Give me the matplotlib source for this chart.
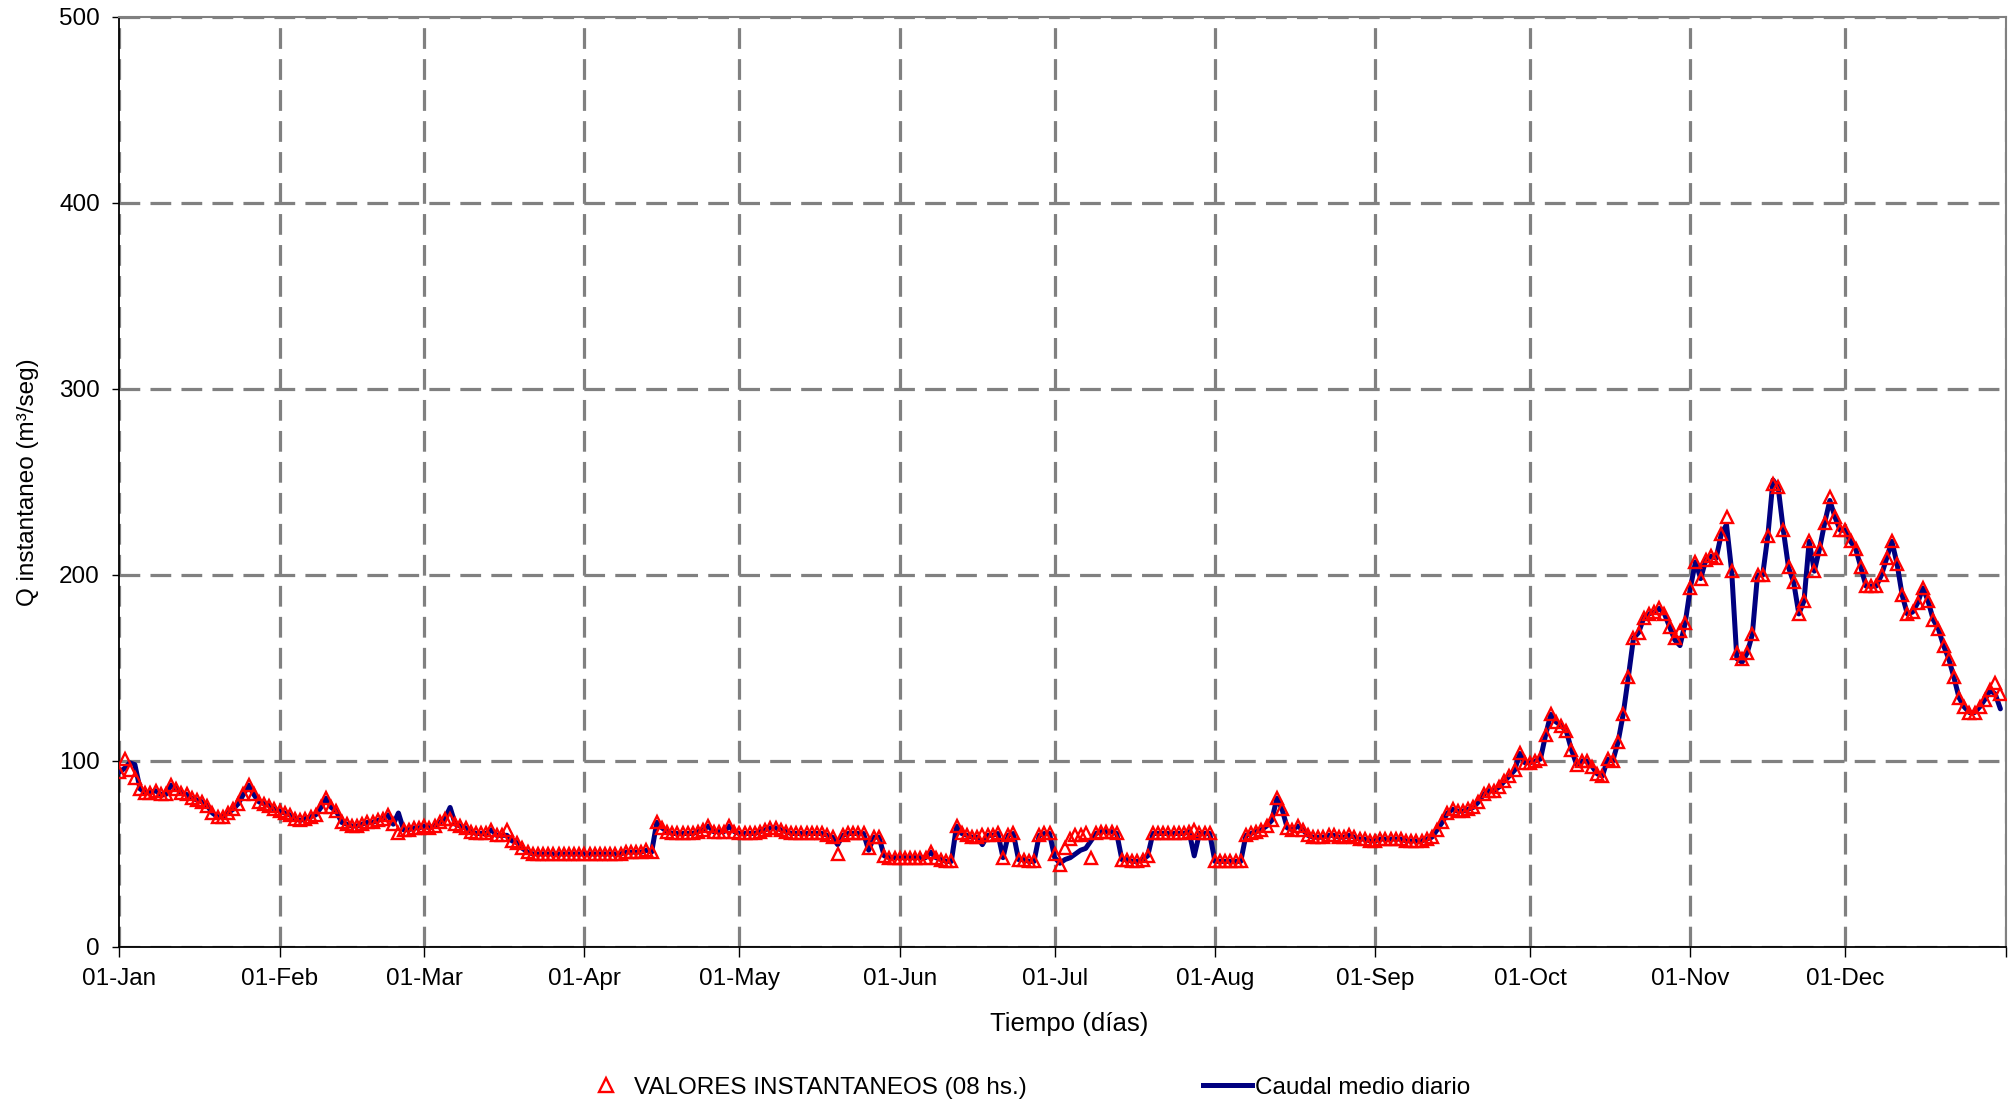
import matplotlib
matplotlib.use('Agg')
import matplotlib.pyplot as plt
from matplotlib import font_manager as fm
from matplotlib.lines import Line2D

# ---- data (daily values, day 0 = 01-Jan) ----
jan = [94, 101, 95, 91, 85, 83, 83, 84, 82, 82, 87, 85, 83, 82, 80, 79, 78, 76, 72, 70,
       70, 72, 74, 77, 82, 87, 82, 78, 77, 76, 74]
feb = [73, 72, 71, 69, 68, 69, 70, 71, 75, 80, 75, 73, 67, 66, 65, 65, 66, 67, 67, 68,
       69, 71, 66, 61, 63, 63, 64, 64]
mar = [65, 64, 65, 67, 69, 69, 66, 65, 64, 62, 61, 61, 61, 63, 60, 60, 63, 57, 56, 53,
       51, 50, 50, 50, 50, 50, 50, 50, 50, 50, 50]
apr = [50, 50, 50, 50, 50, 50, 50, 50, 51, 51, 51, 51, 52, 51, 67, 64, 62, 61, 61, 61,
       61, 61, 62, 63, 65, 62, 62, 62, 65, 62]
may = [61, 61, 61, 61, 62, 63, 64, 64, 63, 62, 61, 61, 61, 61, 61, 61, 61, 60, 59, 50,
       60, 61, 61, 61, 61, 53, 59, 59, 49, 48, 48]
jun = [48, 48, 48, 48, 48, 48, 51, 48, 47, 46, 46, 65, 61, 60, 59, 59, 60, 60, 60, 61,
       48, 60, 61, 47, 47, 46, 46, 60, 61, 61]
jul = [50, 44, 53, 58, 60, 60, 61, 48, 61, 62, 62, 62, 61, 47, 47, 46, 46, 47, 49, 61,
       61, 61, 61, 61, 61, 61, 62, 63, 61, 61, 61]
aug = [46, 46, 46, 46, 46, 46, 60, 61, 62, 63, 65, 68, 80, 74, 64, 63, 65, 63, 60, 59,
       59, 59, 60, 60, 59, 59, 60, 59, 58, 58, 57]
sep = [57, 58, 58, 58, 58, 58, 57, 57, 57, 57, 58, 59, 63, 67, 72, 74, 73, 73, 74, 75,
       78, 82, 84, 84, 86, 89, 92, 95, 104, 99]
oct_ = [99, 100, 101, 114, 125, 121, 119, 116, 106, 98, 100, 100, 97, 93, 92, 101, 100,
        110, 125, 145, 166, 169, 177, 179, 180, 182, 179, 172, 166, 170, 174]
nov = [193, 207, 198, 208, 210, 209, 222, 231, 202, 158, 155, 158, 168, 200, 200, 221,
       249, 247, 224, 204, 196, 179, 186, 218, 202, 214, 228, 242, 231, 224]
dec = [224, 218, 214, 204, 194, 194, 194, 200, 209, 218, 206, 189, 179, 180, 185, 193,
       186, 176, 171, 162, 155, 145, 134, 129, 126, 126, 129, 133, 138, 142, 136]

inst = jan + feb + mar + apr + may + jun + jul + aug + sep + oct_ + nov + dec

# days where the daily mean visibly differs from the 08 hs. reading
mean_diff = {1: 96, 2: 99, 3: 98, 54: 72, 64: 75, 75: 60, 139: 55, 145: 52, 167: 55,
             181: 48, 182: 45, 183: 47, 184: 48, 185: 50, 186: 52, 187: 53, 188: 57,
             208: 49, 301: 165, 302: 162, 311: 227, 313: 155, 314: 153, 320: 251,
             331: 240, 363: 136, 364: 128}
daily_mean = list(inst)
for k, v in mean_diff.items():
    daily_mean[k] = v

days = list(range(len(inst)))
month_starts = [0, 31, 59, 90, 120, 151, 181, 212, 243, 273, 304, 334]
month_labels = ['01-Jan', '01-Feb', '01-Mar', '01-Apr', '01-May', '01-Jun',
                '01-Jul', '01-Aug', '01-Sep', '01-Oct', '01-Nov', '01-Dec']
y_ticks = [0, 100, 200, 300, 400, 500]

# ---- fonts ----
names = {f.name for f in fm.fontManager.ttflist}
if 'Liberation Sans Narrow' in names:
    fam, fs = 'Liberation Sans Narrow', 20
else:
    fam, fs = 'Liberation Sans', 17.5
plt.rcParams['font.family'] = [fam, 'DejaVu Sans']

fig = plt.figure(figsize=(20.13, 11.01), dpi=100)
ax = fig.add_axes([0.0593, 0.1399, 0.9370, 0.8449])

ax.plot(days, daily_mean, color='#000080', lw=3.6, zorder=3,
        solid_joinstyle='round', solid_capstyle='round')
ax.plot(days, inst, linestyle='none', marker='^', markersize=9,
        markerfacecolor='none', markeredgecolor='#FF0000', markeredgewidth=1.7, zorder=4)

ax.set_xlim(0, 365)
ax.set_ylim(0, 500)
ax.set_xticks(month_starts + [365])
ax.set_xticklabels(month_labels + [''])
ax.set_yticks(y_ticks)
ax.set_yticklabels([str(v) for v in y_ticks])

ax.set_axisbelow(True)
ax.grid(True, color='#808080', linewidth=2.3, linestyle=(0, (6.5, 3.2)))

for s in ['left', 'bottom']:
    ax.spines[s].set_color('#000000')
    ax.spines[s].set_linewidth(1.3)
for s in ['top', 'right']:
    ax.spines[s].set_color('#808080')
    ax.spines[s].set_linewidth(1.5)

ax.tick_params(axis='x', length=7, width=1, direction='out', pad=8, labelsize=fs)
ax.tick_params(axis='y', length=5, width=1, direction='out', pad=9, labelsize=fs)

ax.set_ylabel('Q instantaneo (m³/seg)', fontsize=fs)
ax.yaxis.set_label_coords(-0.0425, 0.5)
ax.set_xlabel('Tiempo (días)', fontsize=fs + 1)
ax.xaxis.set_label_coords(0.5035, -0.070)

h1 = Line2D([], [], linestyle='none', marker='^', markersize=10, markerfacecolor='none',
            markeredgecolor='#FF0000', markeredgewidth=1.7)
h2 = Line2D([], [], color='#000080', lw=3.6)
ly = 1 - 1087.5 / 1101
leg1 = fig.legend([h1], ['VALORES INSTANTANEOS (08 hs.)'], loc='center left',
                  bbox_to_anchor=(582 / 2013, ly), frameon=False, fontsize=fs,
                  borderpad=0, borderaxespad=0, handlelength=2, handletextpad=0.15)
leg2 = fig.legend([h2], ['Caudal medio diario'], loc='center left',
                  bbox_to_anchor=(1203 / 2013, ly), frameon=False, fontsize=fs,
                  borderpad=0, borderaxespad=0, handlelength=2, handletextpad=0.15)

fig.savefig('out.png', dpi=100)
